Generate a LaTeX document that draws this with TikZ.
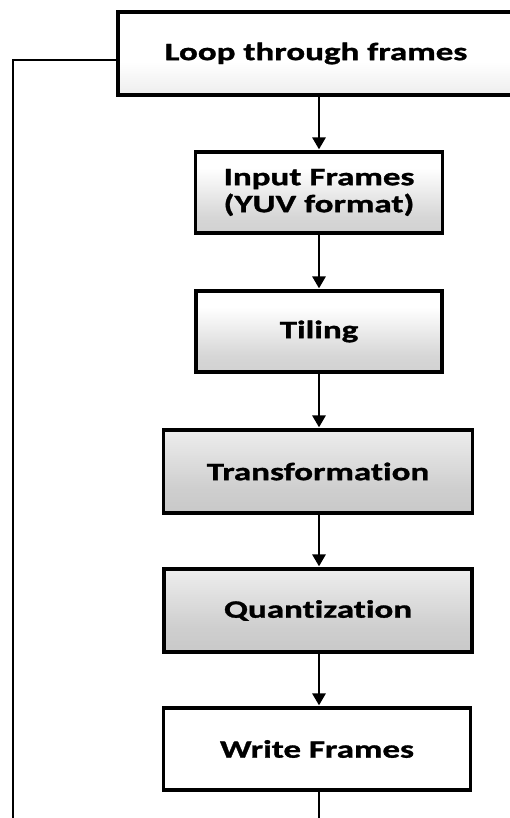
\documentclass[tikz,border=0pt]{standalone}
\usepackage{fontspec}
\newfontfamily\boxfont{Carlito}[FakeStretch=1.4, FakeBold=1.2, Ligatures=NoCommon]
\usetikzlibrary{arrows.meta}

% vertical shadings: white on top, grey towards the bottom
\pgfdeclareverticalshading{shadelight}{100bp}{color(0bp)=(gray!28); color(22bp)=(gray!16); color(45bp)=(white); color(100bp)=(white)}
\pgfdeclareverticalshading{shademid}{100bp}{color(0bp)=(gray!45); color(35bp)=(gray!32); color(65bp)=(white); color(100bp)=(white)}
\pgfdeclareverticalshading{shadedark}{100bp}{color(0bp)=(gray!50); color(40bp)=(gray!38); color(75bp)=(gray!14); color(100bp)=(white)}
\pgfdeclareverticalshading{shadefaint}{100bp}{color(0bp)=(gray!14); color(12bp)=(gray!6); color(25bp)=(white); color(100bp)=(white)}

\tikzset{
  stepbox/.style={draw=black, line width=3.2pt, align=center, inner sep=0pt,
    font=\boxfont\bfseries\fontsize{25}{27}\selectfont, text=black},
  flow/.style={draw=black, line width=2.8pt},
  arr/.style={flow, -{Triangle[width=13pt,length=12pt]}, shorten >=1pt},
}

\begin{document}
\begin{tikzpicture}[x=1pt, y=1pt]
  \useasboundingbox (0,0) rectangle (510,-818);

  % process steps, top to bottom
  \node[stepbox, shading=shadelight, minimum width=396pt, minimum height=83pt]
    (loop) at (316,-53.5) {Loop through frames};
  \node[stepbox, shading=shademid, minimum width=247pt, minimum height=81pt]
    (input) at (319,-192.5) {Input Frames\\(YUV format)};
  \node[stepbox, shading=shademid, minimum width=246pt, minimum height=81pt]
    (tiling) at (319,-331.5) {Tiling};
  \node[stepbox, shading=shadedark, minimum width=309pt, minimum height=83pt]
    (transform) at (318,-471.5) {Transformation};
  \node[stepbox, shading=shadedark, minimum width=308pt, minimum height=83pt]
    (quant) at (318,-610.5) {Quantization};
  \node[stepbox, shading=shadefaint, minimum width=307pt, minimum height=82pt]
    (write) at (317,-749) {Write Frames};

  % forward connectors
  \draw[arr] (loop.south -| input.north) -- (input.north);
  \draw[arr] (input.south) -- (tiling.north);
  \draw[arr] (tiling.south) -- (transform.north -| tiling.south);
  \draw[arr] (transform.south -| tiling.south) -- (quant.north -| tiling.south);
  \draw[arr] (quant.south -| tiling.south) -- (write.north -| tiling.south);

  % loop-back line and outgoing line
  \coordinate (backcorner) at (13,-60);
  \coordinate (backend) at (13,-818);
  \coordinate (outend) at (319,-818);
  \draw[flow] ([yshift=-6.5pt]loop.west) -- (backcorner) -- (backend);
  \draw[flow] (write.south -| tiling.south) -- (outend);
\end{tikzpicture}
\end{document}
